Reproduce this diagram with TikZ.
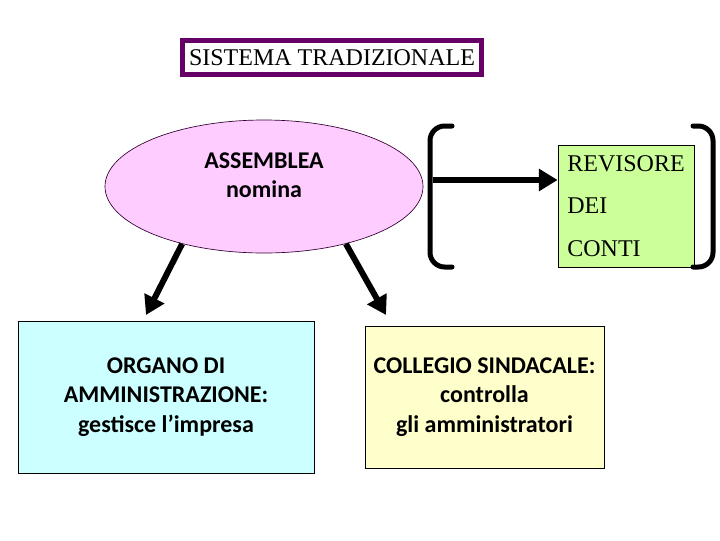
\documentclass[tikz,border=0pt]{standalone}
\usepackage{fontspec}
\setmainfont{Liberation Serif}
\newfontfamily\bodysans{Carlito}
\usetikzlibrary{arrows.meta,shapes.geometric,positioning,calc}
\definecolor{titleink}{HTML}{660066}
\definecolor{rimink}{HTML}{330033}
\definecolor{pinkfill}{HTML}{FFCCFF}
\definecolor{cyanfill}{HTML}{CCFFFF}
\definecolor{creamfill}{HTML}{FFFFCC}
\definecolor{limefill}{HTML}{CCFF99}
\newcommand{\BigText}{\fontsize{18}{22}\selectfont}
\newcommand{\RevText}{\fontsize{18}{32}\selectfont}

\begin{document}
\begin{tikzpicture}[
    x=0.75pt, y=-0.75pt,
    bigarrow/.style={-{Triangle[length=14pt, width=16pt]}, line width=4.5pt, draw=black},
    bracket/.style={line width=3.75pt, rounded corners=11pt, line cap=round},
    titlebox/.style={draw=titleink, line width=3.75pt, fill=white, minimum width=224.25pt, minimum height=25.5pt, inner sep=0pt, font=\BigText},
    assembly/.style={ellipse, draw=rimink, line width=0.5pt, fill=pinkfill, minimum width=238.5pt, minimum height=99.75pt, inner sep=0pt},
    sanstext/.style={align=center, font=\bodysans\bfseries\BigText},
    organbox/.style={draw=black, line width=0.6pt, inner sep=0pt, align=center, font=\bodysans\bfseries\BigText},
    revbox/.style={draw=black, line width=0.6pt, fill=limefill, minimum width=102pt, minimum height=91.5pt, text width=88pt, inner sep=7pt, align=left, font=\RevText},
  ]
\useasboundingbox (0,0) rectangle (720,540);

% title
\node[titlebox] (title) at (332,57.5) {SISTEMA TRADIZIONALE};

% the assembly and what it appoints
\node[assembly] (ass) at (264,186.5) {};
\node[sanstext] (asstext) at (264,175) {ASSEMBLEA\\nomina};

\node[organbox, fill=cyanfill, minimum width=222pt, minimum height=114pt] (org) at (166,397)
  {ORGANO DI\\AMMINISTRAZIONE:\\gestisce l’impresa};
\node[organbox, fill=creamfill, minimum width=179.25pt, minimum height=106.5pt] (coll) at (484.5,397)
  {COLLEGIO SINDACALE:\\controlla\\ gli amministratori};

\node[revbox] (rev) at (626,206) {REVISORE\\DEI\\CONTI};

% brackets round the auditor
\draw[bracket] (452,126) -- (430,126) -- (430,267) -- (452,267);
\draw[bracket] (693,126) -- (713,126) -- (713,267) -- (693,267);

% arrows
\coordinate (brkl) at (433,180);
\coordinate (orgtip) at (146,315);
\coordinate (colltip) at (386,315);
\draw[bigarrow] (ass.215) -- (orgtip);
\draw[bigarrow] (ass.325) -- (colltip);
\draw[bigarrow] (brkl) -- (brkl -| rev.west);

\end{tikzpicture}
\end{document}
